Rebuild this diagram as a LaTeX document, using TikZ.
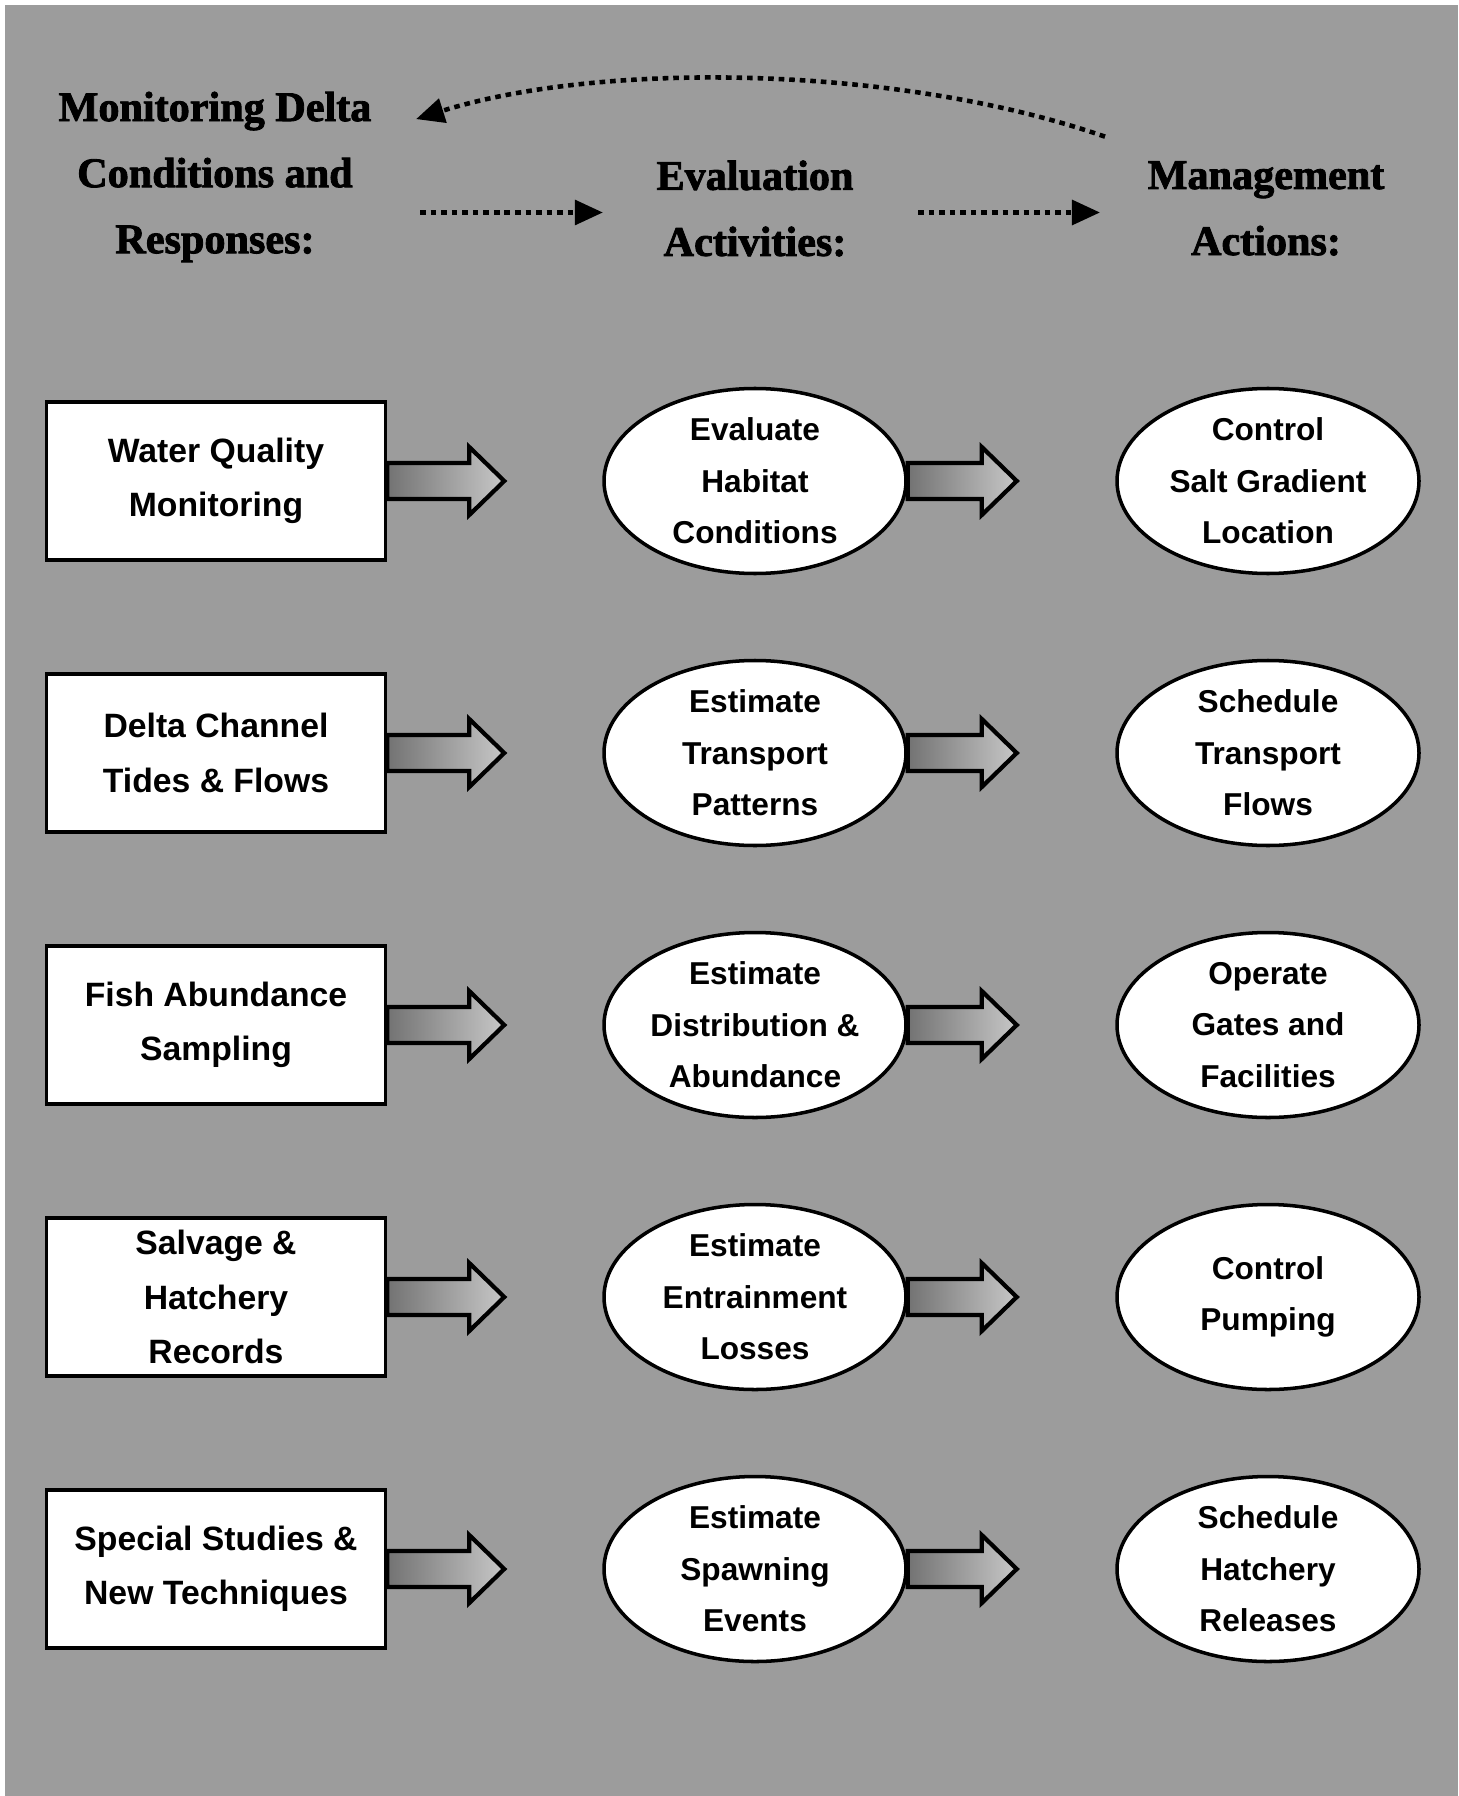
\documentclass[tikz,border=0pt]{standalone}
\usepackage{fontspec}
\newfontfamily\headfont{Liberation Serif}[BoldFeatures={FakeBold=2}]
\newfontfamily\boxfont{Liberation Sans}
\usetikzlibrary{arrows.meta,shapes.geometric}
\definecolor{bggray}{gray}{0.61}

\begin{document}
\begin{tikzpicture}[node distance=2.72cm]
    \tikzstyle{headtext} = [align=center, inner sep=0pt, font=\headfont\bfseries\fontsize{12}{18.8}\selectfont]
    \tikzstyle{monbox} = [rectangle, draw, line width=1pt, fill=white, minimum width=3.39cm, minimum height=1.58cm, align=center, font=\boxfont\bfseries\fontsize{9.6}{15.5}\selectfont]
    \tikzstyle{evaloval} = [ellipse, draw, line width=1pt, fill=white, minimum width=3.02cm, minimum height=1.85cm, inner sep=0pt, align=center, font=\boxfont\bfseries\fontsize{9}{14.7}\selectfont]
    \tikzstyle{fatarrow} = [draw, line width=1.2pt, left color=black!55, right color=black!22]
    \tikzstyle{dotarrow} = [line width=1.3pt, dash pattern=on 1.6pt off 1.4pt, -{Triangle[length=8pt,width=7pt]}]

    \useasboundingbox (0,0) rectangle (14.58,-17.96);
    \fill [bggray] (0.05,-0.05) rectangle (14.58,-17.96);

    % column headings
    \node (mon) [headtext] at (2.15,-1.77) {Monitoring Delta\\Conditions and\\Responses:};
    \node (eval) [headtext] at (7.55,-2.085) {Evaluation\\Activities:};
    \node (mgmt) [headtext] at (12.66,-2.085) {Management\\Actions:};
    \coordinate (evalmid) at ([yshift=-0.04cm]eval.west);

    \draw [dotarrow, shorten <=0.48cm, shorten >=0.53cm] (mon.east |- evalmid) -- (evalmid);
    \draw [dotarrow, shorten <=0.64cm, shorten >=0.47cm] ([yshift=-0.04cm]eval.east) -- ([yshift=-0.04cm]mgmt.west);
    \draw [dotarrow] ([xshift=-0.42cm,yshift=0.24cm]mgmt.north west) .. controls +(-2.07,0.72) and +(1.84,0.58) .. ([xshift=0.44cm,yshift=-0.28cm]mon.north east);

    % monitoring
    \node (wq) [monbox] at (2.16,-4.81) {Water Quality\\Monitoring};
    \node (dc) [monbox, below of=wq] {Delta Channel\\Tides \& Flows};
    \node (fa) [monbox, below of=dc] {Fish Abundance\\Sampling};
    \node (sh) [monbox, below of=fa] {Salvage \&\\Hatchery\\Records};
    \node (ss) [monbox, below of=sh] {Special Studies \&\\New Techniques};

    % evaluation
    \node (eh) [evaloval, right of=wq, xshift=2.67cm] {Evaluate\\Habitat\\Conditions};
    \node (et) [evaloval, right of=dc, xshift=2.67cm] {Estimate\\Transport\\Patterns};
    \node (ed) [evaloval, right of=fa, xshift=2.67cm] {Estimate\\Distribution \&\\Abundance};
    \node (ee) [evaloval, right of=sh, xshift=2.67cm] {Estimate\\Entrainment\\Losses};
    \node (es) [evaloval, right of=ss, xshift=2.67cm] {Estimate\\Spawning\\Events};

    % management
    \node (cs) [evaloval, right of=eh, xshift=2.41cm] {Control\\Salt Gradient\\Location};
    \node (st) [evaloval, right of=et, xshift=2.41cm] {Schedule\\Transport\\Flows};
    \node (og) [evaloval, right of=ed, xshift=2.41cm] {Operate\\Gates and\\Facilities};
    \node (cp) [evaloval, right of=ee, xshift=2.41cm] {Control\\Pumping};
    \node (hr) [evaloval, right of=es, xshift=2.41cm] {Schedule\\Hatchery\\Releases};

    \foreach \n/\len in {wq/0.82, dc/0.82, fa/0.82, sh/0.82, ss/0.82, eh/0.74, et/0.74, ed/0.74, ee/0.74, es/0.74}
        \draw [fatarrow] (\n.east) ++(0,0.18) -- ++(\len,0) -- ++(0,0.16) -- ++(0.35,-0.34) -- ++(-0.35,-0.34) -- ++(0,0.16) -- ++(-\len,0) -- cycle;
\end{tikzpicture}
\end{document}
